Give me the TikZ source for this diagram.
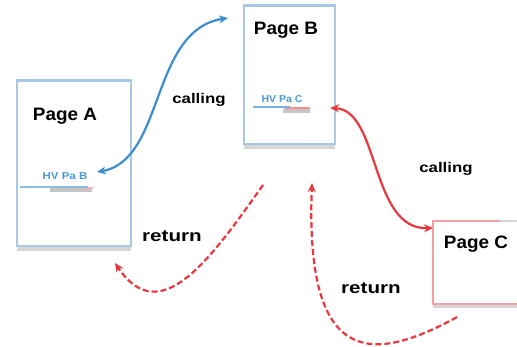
\documentclass[tikz,border=0pt]{standalone}
\usepackage{fontspec}
\setmainfont{Liberation Sans}
\usepackage{graphicx}
\usetikzlibrary{arrows.meta}
\definecolor{boxblue}{HTML}{A9C8E6}
\definecolor{arrblue}{HTML}{3C8DD0}
\definecolor{arrred}{HTML}{E8383D}
\definecolor{boxpink}{HTML}{F2A0A3}
\definecolor{shadowgrey}{HTML}{D4D6D8}
\definecolor{linkblue}{HTML}{4A9AD8}
\newcommand{\wider}[2]{\scalebox{#1}[1]{#2}}
\tikzset{
  pagebox/.style={rectangle, fill=white, line width=1.8pt, inner sep=0pt, anchor=north west},
  titletext/.style={font=\bfseries\fontsize{18}{20}\selectfont, inner sep=0pt},
  lbltext/.style={font=\bfseries\fontsize{14}{16}\selectfont, inner sep=0pt},
  rettext/.style={font=\bfseries\fontsize{16.5}{18}\selectfont, inner sep=0pt},
  linktext/.style={font=\bfseries\fontsize{10}{11}\selectfont, text=linkblue, inner sep=0pt},
  bluearrow/.style={draw=arrblue, line width=2.2pt, {Stealth[length=9pt,width=8pt]}-{Stealth[length=9pt,width=8pt]}},
  redarrow/.style={draw=arrred, line width=2.2pt, {Stealth[length=9pt,width=8pt]}-{Stealth[length=9pt,width=8pt]}},
  returnarrow/.style={draw=arrred, line width=2.2pt, dash pattern=on 6pt off 3pt, -{Stealth[length=9pt,width=8pt]}},
}
\begin{document}
\begin{tikzpicture}[x=1pt,y=-1pt]
\useasboundingbox (0,0) rectangle (517,346);
% shadows
\fill[shadowgrey] (17,82) rectangle (131,251);
\fill[shadowgrey] (244,7) rectangle (335,149);
\fill[shadowgrey] (433,222) rectangle (525,308);
% boxes
\node[pagebox, draw=boxblue, minimum width=114pt, minimum height=165pt] (A) at (16,80) {};
\node[pagebox, draw=boxblue, minimum width=91pt, minimum height=138pt] (B) at (243,5) {};
\node[pagebox, draw=boxpink, minimum width=95pt, minimum height=83pt] (C) at (432,220) {};
\draw[boxblue, line width=3pt] (A.north west) -- (A.north east);
\draw[boxblue, line width=3pt] (B.north west) -- (B.north east);
\draw[shadowgrey, line width=2pt] (500,221) -- (525,221);
% titles
\node[titletext] (tA) at (65,116) {\wider{1.05}{Page A}};
\node[titletext] (tB) at (286,30) {\wider{1.05}{Page B}};
\node[titletext] (tC) at (476,244) {\wider{1.05}{Page C}};
% links
\fill[gray!45] (50,188) rectangle (92,192);
\fill[red!30] (80,187) rectangle (93,189);
\draw[linkblue!65, line width=2.2pt] (20,187) -- (88,187);
\node[linktext] (lA) at (65,176) {\wider{1.15}{HV Pa B}};
\fill[gray!45] (283,109) rectangle (310,113);
\draw[red!45, line width=1.5pt] (285,108) -- (310,108);
\draw[linkblue!75, line width=2pt] (253,107) -- (290,107);
\node[linktext] (lB) at (282,99) {\wider{1.05}{HV Pa C}};
% connector end points
\coordinate (a1) at (97,172);
\coordinate (b1) at (228,18);
\coordinate (b2) at (330,108);
\coordinate (c1) at (433,228);
\coordinate (r1s) at (263,185);
\coordinate (r1e) at (115,263);
\coordinate (r2s) at (457,317);
\coordinate (r2e) at (312,183);
% arrows
\draw[bluearrow] (a1) .. controls (165,160) and (150,30) .. (b1);
\draw[redarrow] (b2) .. controls (380,110) and (370,230) .. (c1);
\draw[returnarrow] (r1s) .. controls (210,260) and (160,330) .. (r1e);
\draw[returnarrow] (r2s) .. controls (370,365) and (305,365) .. (r2e);
% labels
\node[lbltext] (l1) at (199,100) {\wider{1.2}{calling}};
\node[lbltext] (l2) at (446,169) {\wider{1.2}{calling}};
\node[rettext] (l3) at (172,236) {\wider{1.25}{return}};
\node[rettext] (l4) at (371,288) {\wider{1.25}{return}};
\end{tikzpicture}
\end{document}
